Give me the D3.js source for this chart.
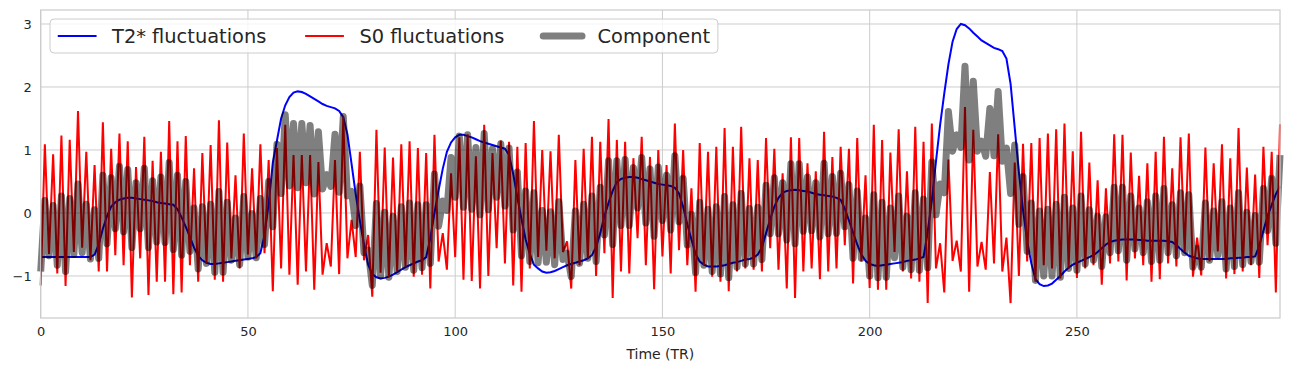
<!DOCTYPE html>
<html>
<head>
<meta charset="utf-8">
<script src="https://cdn.jsdelivr.net/npm/d3@7"></script>
<style>
  body { margin: 0; background: #fff; }
  text { font-family: "DejaVu Sans", sans-serif; fill: #262626; }
</style>
</head>
<body>
<svg id="chart" width="1290" height="371"></svg>
<script>
// T2* fluctuations, one value per TR (0..299)
var t2star = [
 -0.70,-0.70,-0.70,-0.70,-0.70,-0.70,-0.70,-0.70,-0.70,-0.70,
 -0.70,-0.70,-0.70,-0.66,-0.50,-0.25,-0.05,0.10,0.17,0.21,
 0.23,0.24,0.24,0.23,0.22,0.21,0.20,0.19,0.17,0.16,
 0.15,0.14,0.13,0.06,-0.07,-0.22,-0.38,-0.55,-0.68,-0.75,
 -0.79,-0.81,-0.81,-0.80,-0.79,-0.78,-0.77,-0.76,-0.75,-0.74,
 -0.73,-0.72,-0.70,-0.64,-0.35,0.15,0.80,1.15,1.50,1.71,
 1.84,1.91,1.93,1.92,1.89,1.85,1.81,1.77,1.73,1.70,
 1.68,1.66,1.62,1.52,1.25,0.78,0.30,-0.12,-0.50,-0.82,
 -0.97,-1.02,-1.04,-1.03,-1.01,-0.98,-0.94,-0.90,-0.86,-0.83,
 -0.80,-0.77,-0.75,-0.70,-0.40,0.00,0.36,0.70,0.97,1.12,
 1.20,1.24,1.24,1.22,1.20,1.17,1.14,1.12,1.10,1.08,
 1.06,1.04,1.02,0.92,0.62,0.25,-0.10,-0.42,-0.65,-0.82,
 -0.88,-0.93,-0.95,-0.94,-0.92,-0.89,-0.86,-0.83,-0.81,-0.79,
 -0.77,-0.75,-0.72,-0.67,-0.54,-0.32,-0.05,0.16,0.35,0.49,
 0.54,0.56,0.57,0.57,0.56,0.54,0.52,0.50,0.48,0.46,
 0.45,0.44,0.43,0.40,0.31,0.10,-0.18,-0.42,-0.65,-0.77,
 -0.82,-0.85,-0.85,-0.85,-0.84,-0.83,-0.81,-0.79,-0.78,-0.76,
 -0.74,-0.73,-0.71,-0.66,-0.55,-0.32,-0.10,0.10,0.24,0.32,
 0.35,0.36,0.37,0.36,0.35,0.34,0.32,0.30,0.29,0.28,
 0.27,0.26,0.24,0.21,0.07,-0.12,-0.31,-0.50,-0.66,-0.76,
 -0.81,-0.83,-0.84,-0.83,-0.82,-0.81,-0.80,-0.79,-0.78,-0.76,
 -0.75,-0.74,-0.72,-0.70,-0.30,0.20,0.82,1.40,1.90,2.36,
 2.72,2.92,3.00,2.98,2.93,2.86,2.80,2.74,2.70,2.66,
 2.62,2.60,2.57,2.45,2.05,1.35,0.65,0.05,-0.45,-0.80,
 -1.05,-1.13,-1.16,-1.15,-1.12,-1.06,-1.00,-0.93,-0.87,-0.82,
 -0.79,-0.76,-0.73,-0.70,-0.67,-0.62,-0.56,-0.50,-0.46,-0.44,
 -0.43,-0.42,-0.42,-0.42,-0.42,-0.43,-0.43,-0.44,-0.44,-0.44,
 -0.44,-0.44,-0.45,-0.46,-0.51,-0.57,-0.63,-0.68,-0.70,-0.72,
 -0.73,-0.73,-0.73,-0.73,-0.73,-0.73,-0.73,-0.72,-0.72,-0.71,
 -0.71,-0.70,-0.70,-0.69,-0.52,-0.28,-0.05,0.13,0.30,0.42
];

// S0 fluctuations
var s0 = [
 -1.15,1.09,-0.65,0.93,-0.96,1.23,-1.16,1.16,-0.62,1.62,
 -0.55,0.97,-0.75,0.76,-0.93,1.44,-0.93,1.02,-0.67,1.26,
 -0.83,1.14,-1.34,0.73,-0.72,1.21,-1.30,0.83,-1.09,0.97,
 -1.09,1.46,-1.29,1.14,-1.26,1.22,-0.83,0.71,-1.09,0.95,
 -0.80,1.08,-1.06,1.47,-1.09,1.12,-0.72,0.60,-0.88,1.26,
 -0.66,0.71,-0.72,1.09,-0.64,0.84,-1.24,1.03,-0.88,1.40,
 -0.98,0.92,-1.14,0.92,-0.93,0.92,-1.22,0.81,-0.98,-0.48,
 -0.85,0.84,-0.97,1.53,-0.72,-0.11,-0.70,0.97,-0.75,-0.35,
 -1.33,1.32,-0.95,1.04,-1.02,0.88,-0.92,1.09,-0.85,1.14,
 -1.01,1.03,-0.98,0.95,-1.20,1.24,-0.77,-0.32,-0.90,0.63,
 -0.70,1.20,-1.06,1.25,-1.08,0.90,-1.20,1.40,-1.00,0.95,
 -0.56,1.15,-0.80,1.13,-1.15,1.05,-1.25,1.11,-0.88,1.46,
 -0.70,1.00,-0.60,0.98,-0.72,1.24,-0.62,-0.45,-1.20,0.84,
 -0.83,1.02,-0.72,1.21,-1.00,1.13,-0.64,1.49,-1.35,1.16,
 -0.93,1.13,-0.96,0.87,-0.40,1.21,-0.83,0.89,-1.21,1.00,
 -0.69,0.76,-0.96,1.42,-0.59,1.00,-0.83,0.39,-1.25,1.11,
 -0.83,0.97,-1.01,1.05,-1.09,1.35,-1.24,1.05,-0.93,1.37,
 -0.88,0.87,-0.90,0.84,-0.93,1.19,-0.56,1.02,-0.90,0.63,
 -1.20,1.20,-1.35,1.19,-0.93,0.79,-0.88,0.66,-1.05,1.29,
 -0.93,0.89,-0.88,1.05,-0.51,1.02,-1.12,1.19,-0.77,0.60,
 -1.19,1.40,-1.22,1.16,-1.22,0.96,-0.62,1.33,-0.93,0.66,
 -1.04,1.37,-1.09,1.13,-1.43,1.42,-0.88,-0.48,-1.26,0.85,
 -0.76,-0.44,-0.93,1.68,-1.25,1.32,-0.85,-0.46,-0.90,0.65,
 -0.80,1.25,-0.93,-0.39,-1.43,0.80,-1.00,1.10,-0.77,1.11,
 -1.09,1.19,-0.83,1.26,-0.88,1.33,-1.04,1.42,-0.88,0.98,
 -1.03,1.29,-0.88,0.80,-0.83,0.52,-1.14,0.39,-0.80,1.25,
 -0.77,1.24,-1.07,0.96,-0.72,0.59,-0.83,0.79,-1.09,0.97,
 -1.05,1.21,-0.80,0.71,-0.85,1.20,-0.62,1.26,-1.01,-0.39,
 -0.99,1.04,-0.77,0.79,-0.61,1.09,-1.04,0.87,-0.97,1.35,
 -0.93,0.72,-0.83,0.61,-1.03,1.05,-0.51,0.97,-1.26,1.41
];

// Component time series
var component = [
 -0.93,0.20,-0.68,0.12,-0.83,0.27,-0.93,0.23,-0.66,0.46,
 -0.63,0.14,-0.73,0.05,-0.72,0.60,-0.49,0.56,-0.25,0.74,
 -0.30,0.69,-0.55,0.48,-0.25,0.71,-0.55,0.51,-0.46,0.57,
 -0.47,0.80,-0.58,0.60,-0.67,0.50,-0.61,0.08,-0.89,0.10,
 -0.80,0.14,-0.94,0.34,-0.94,0.17,-0.75,-0.08,-0.82,0.26,
 -0.70,-0.01,-0.71,0.23,-0.50,0.50,-0.22,1.09,0.31,1.56,
 0.43,1.42,0.40,1.42,0.48,1.39,0.30,1.29,0.38,0.61,
 0.42,1.25,0.33,1.53,0.27,0.34,-0.20,0.43,-0.63,-0.59,
 -1.15,0.15,-1.00,0.01,-1.02,-0.05,-0.93,0.10,-0.86,0.16,
 -0.91,0.13,-0.87,0.13,-0.80,0.62,-0.21,0.19,0.04,0.88,
 0.25,1.22,0.09,1.24,0.06,1.04,-0.03,1.26,0.05,1.02,
 0.25,1.10,0.11,1.03,-0.27,0.65,-0.68,0.35,-0.77,0.32,
 -0.79,0.04,-0.78,0.02,-0.82,0.18,-0.74,-0.64,-1.01,0.03,
 -0.80,0.14,-0.72,0.27,-0.77,0.41,-0.35,0.83,-0.50,0.83,
 -0.20,0.85,-0.20,0.72,0.08,0.88,-0.16,0.70,-0.37,0.73,
 -0.12,0.60,-0.27,0.91,-0.14,0.55,-0.51,-0.02,-0.95,0.17,
 -0.83,0.06,-0.93,0.10,-0.97,0.26,-1.03,0.13,-0.86,0.31,
 -0.81,0.07,-0.81,0.09,-0.74,0.44,-0.33,0.56,-0.33,0.48,
 -0.43,0.78,-0.49,0.78,-0.29,0.57,-0.28,0.48,-0.38,0.79,
 -0.33,0.58,-0.32,0.63,-0.22,0.45,-0.72,0.35,-0.72,-0.08,
 -1.00,0.29,-1.03,0.17,-1.02,0.08,-0.71,0.27,-0.86,-0.05,
 -0.90,0.32,-0.91,0.22,-0.87,0.81,-0.03,0.46,0.32,1.61,
 0.98,1.24,1.04,2.33,0.84,2.09,0.98,1.14,0.90,1.66,
 0.91,1.93,0.82,1.03,0.31,1.08,-0.18,0.58,-0.61,0.16,
 -1.07,0.03,-1.00,0.06,-1.00,0.14,-1.02,0.25,-0.88,0.08,
 -0.91,0.27,-0.81,0.05,-0.75,-0.05,-0.85,-0.06,-0.63,0.41,
 -0.60,0.41,-0.75,0.27,-0.57,0.08,-0.63,0.18,-0.77,0.27,
 -0.75,0.39,-0.63,0.13,-0.68,0.32,-0.63,0.29,-0.86,-0.56,
 -0.86,0.16,-0.75,0.03,-0.67,0.18,-0.89,0.08,-0.85,0.32,
 -0.82,0.01,-0.77,-0.04,-0.78,0.39,-0.28,0.55,-0.48,0.92
];

var xTicks = [0, 50, 100, 150, 200, 250];
var yTicks = [-1, 0, 1, 2, 3];
var seriesNames = ["T2* fluctuations", "S0 fluctuations", "Component"];

var svg = d3.select("#chart");
// plot box in pixels (note: "top" is taken by window.top, so prefix these)
var pLeft = 40.7, pRight = 1280, pTop = 10, pBottom = 318;

var x = d3.scaleLinear().domain([0, t2star.length - 1]).range([pLeft, pRight]);
var y = d3.scaleLinear().domain([-1.667, 3.222]).range([pBottom, pTop]);

// grid
svg.append("g").selectAll("line").data(xTicks).enter().append("line")
  .attr("x1", function(d) { return x(d); }).attr("x2", function(d) { return x(d); })
  .attr("y1", pTop).attr("y2", pBottom)
  .attr("stroke", "#cccccc").attr("stroke-width", 1);
svg.append("g").selectAll("line").data(yTicks).enter().append("line")
  .attr("x1", pLeft).attr("x2", pRight)
  .attr("y1", function(d) { return y(d); }).attr("y2", function(d) { return y(d); })
  .attr("stroke", "#cccccc").attr("stroke-width", 1);

// axes (labels only, seaborn whitegrid has no tick marks)
var xAxis = svg.append("g").attr("transform", "translate(0," + pBottom + ")")
  .call(d3.axisBottom(x).tickValues(xTicks).tickSize(0).tickPadding(9));
var yAxis = svg.append("g").attr("transform", "translate(" + pLeft + ",0)")
  .call(d3.axisLeft(y).tickValues(yTicks).tickSize(0).tickPadding(9)
    .tickFormat(function(d) { return d < 0 ? "\u2212" + Math.abs(d) : d; }));
[xAxis, yAxis].forEach(function(a) {
  a.select(".domain").remove();
  a.selectAll("text").attr("font-size", 13).attr("font-family", "DejaVu Sans").attr("fill", "#262626");
});

svg.append("text")
  .attr("x", (pLeft + pRight) / 2).attr("y", 359)
  .attr("text-anchor", "middle").attr("font-size", 14)
  .text("Time (TR)");

var line = function(vals) {
  return d3.line()
    .x(function(d, i) { return x(i); })
    .y(function(d) { return y(d); })(vals);
};

var plot = svg.append("g");
plot.append("path").attr("d", line(t2star))
  .attr("fill", "none").attr("stroke", "#0000ff").attr("stroke-width", 2);
plot.append("path").attr("d", line(s0))
  .attr("fill", "none").attr("stroke", "#ff0000").attr("stroke-width", 2);
plot.append("path").attr("d", line(component))
  .attr("fill", "none").attr("stroke", "#000").attr("stroke-opacity", 0.5)
  .attr("stroke-width", 7).attr("stroke-linejoin", "round");

// frame
svg.append("rect").attr("x", pLeft).attr("y", pTop)
  .attr("width", pRight - pLeft).attr("height", pBottom - pTop)
  .attr("fill", "none").attr("stroke", "#cccccc").attr("stroke-width", 1.25);

// legend, one row of three
var fs = 19.4;
var legend = svg.append("g");
var box = legend.append("rect").attr("x", 50).attr("y", 19).attr("height", 34)
  .attr("rx", 4).attr("fill", "#fff").attr("fill-opacity", 0.8)
  .attr("stroke", "#cccccc").attr("stroke-width", 1);
var styles = [
  { color: "#0000ff", w: 2, op: 1 },
  { color: "#ff0000", w: 2, op: 1 },
  { color: "#000", w: 7, op: 0.5 }
];
var cx = 50 + 0.4 * fs;
seriesNames.forEach(function(name, i) {
  legend.append("line")
    .attr("x1", cx).attr("x2", cx + 2 * fs).attr("y1", 36).attr("y2", 36)
    .attr("stroke", styles[i].color).attr("stroke-opacity", styles[i].op)
    .attr("stroke-width", styles[i].w).attr("stroke-linecap", i == 2 ? "round" : "butt");
  var t = legend.append("text").attr("x", cx + 2.8 * fs).attr("y", 43)
    .attr("font-size", fs).text(name);
  cx = cx + 2.8 * fs + t.node().getComputedTextLength() + 2 * fs;
});
box.attr("width", cx - 2 * fs + 0.4 * fs - 50);
</script>
</body>
</html>
